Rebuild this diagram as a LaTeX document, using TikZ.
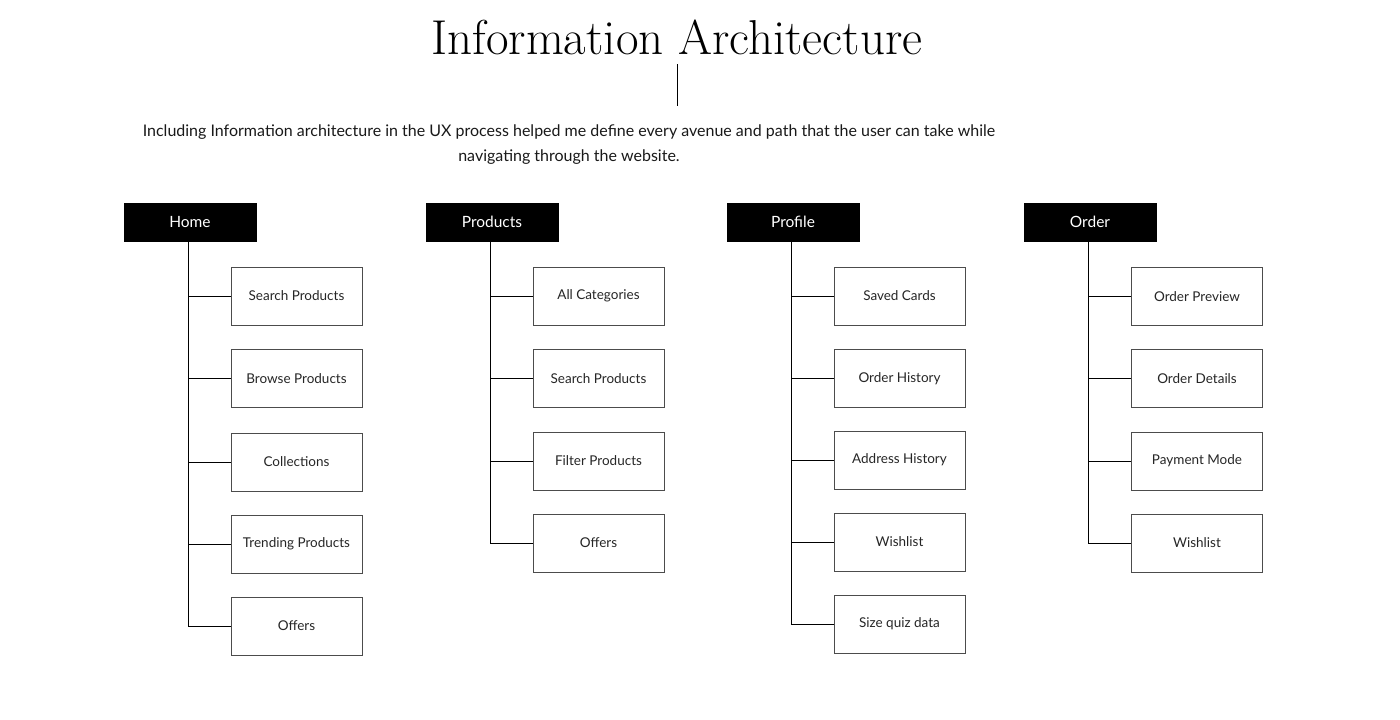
\documentclass[tikz,border=0pt]{standalone}
\usepackage{fontspec}
\setsansfont{Lato}
\begin{document}
\begin{tikzpicture}[x=1pt,y=-1pt,
  hdr/.style={fill=black,draw=black,minimum width=132pt,minimum height=38pt,inner sep=0pt,text=white,font=\sffamily\fontsize{15.5}{17}\selectfont},
  child/.style={draw=black!70,line width=1pt,fill=white,minimum width=131pt,minimum height=58pt,inner sep=0pt,font=\sffamily\fontsize{13.5}{15}\selectfont,text=black!85},
  conn/.style={draw=black,line width=0.9pt}]
\useasboundingbox (0,0) rectangle (1400,720);
\node[font=\fontsize{49}{52}\selectfont] (title) at (677,37) {Information Architecture};
\coordinate (vt) at (677,64);
\coordinate (vb) at (677,106);
\draw[line width=1pt] (vt) -- (vb);
\node[font=\sffamily\fontsize{16}{25}\selectfont,align=center,text=black!90] (sub) at (569,144.5) {Including Information architecture in the UX process helped me define every avenue and path that the user can take while\\navigating through the website.};
% headers
\node[hdr] (home) at (190,222) {Home};
\node[hdr] (prod) at (492,222) {Products};
\node[hdr] (prof) at (793,222) {Profile};
\node[hdr] (ord) at (1090,222) {Order};
\coordinate (homet) at ([xshift=-2pt]home.south);
\coordinate (prodt) at ([xshift=-2pt]prod.south);
\coordinate (proft) at ([xshift=-2pt]prof.south);
\coordinate (ordt) at ([xshift=-2pt]ord.south);
% Home children
\node[child] (h1) at (296.5,296) {Search Products};
\node[child] (h2) at (296.5,378.5) {Browse Products};
\node[child] (h3) at (296.5,462) {Collections};
\node[child] (h4) at (296.5,544) {Trending Products};
\node[child] (h5) at (296.5,626) {Offers};
% Products children
\node[child] (p1) at (598.5,296) {All Categories};
\node[child] (p2) at (598.5,378.5) {Search Products};
\node[child] (p3) at (598.5,461) {Filter Products};
\node[child] (p4) at (598.5,543) {Offers};
% Profile children
\node[child] (r1) at (899.5,296) {Saved Cards};
\node[child] (r2) at (899.5,378.5) {Order History};
\node[child] (r3) at (899.5,460) {Address History};
\node[child] (r4) at (899.5,542) {Wishlist};
\node[child] (r5) at (899.5,624) {Size quiz data};
% Order children
\node[child] (o1) at (1197,296.5) {Order Preview};
\node[child] (o2) at (1197,378.5) {Order Details};
\node[child] (o3) at (1197,461) {Payment Mode};
\node[child] (o4) at (1197,543) {Wishlist};
% connectors
\foreach \h/\last/\list in {homet/h5/{h1,h2,h3,h4,h5},prodt/p4/{p1,p2,p3,p4},proft/r5/{r1,r2,r3,r4,r5},ordt/o4/{o1,o2,o3,o4}}{
  \draw[conn] (\h) |- (\last.west);
  \foreach \c in \list {
    \draw[conn] (\c.west) -- (\c.west -| \h);
  }
}
\end{tikzpicture}
\end{document}
